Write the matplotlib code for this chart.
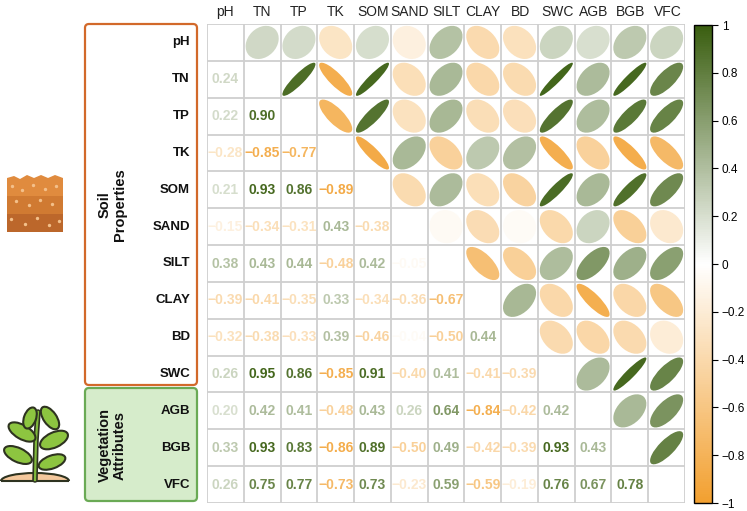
import numpy as np
import matplotlib
matplotlib.use("Agg")
import matplotlib.pyplot as plt
from matplotlib.colors import LinearSegmentedColormap, Normalize
from matplotlib.patches import Ellipse, Rectangle, FancyBboxPatch, Polygon
import matplotlib.cm as cm

plt.rcParams["font.family"] = ["Liberation Sans", "DejaVu Sans"]

VARS = ["pH", "TN", "TP", "TK", "SOM", "SAND", "SILT", "CLAY", "BD", "SWC", "AGB", "BGB", "VFC"]
ROW_LABELS = ["pH", "TN", "TP", "TK", "SOM", "SAND", "SILT", "CLAY", "BD", "SWC", "AGB", "BGB", "VFC"]

# lower triangle, row by row (row i has i values)
LOWER = [
    [],
    [0.24],
    [0.22, 0.90],
    [-0.28, -0.85, -0.77],
    [0.21, 0.93, 0.86, -0.89],
    [-0.15, -0.34, -0.31, 0.43, -0.38],
    [0.38, 0.43, 0.44, -0.48, 0.42, -0.05],
    [-0.39, -0.41, -0.35, 0.33, -0.34, -0.36, -0.67],
    [-0.32, -0.38, -0.33, 0.39, -0.46, -0.04, -0.50, 0.44],
    [0.26, 0.95, 0.86, -0.85, 0.91, -0.40, 0.41, -0.41, -0.39],
    [0.20, 0.42, 0.41, -0.48, 0.43, 0.26, 0.64, -0.84, -0.42, 0.42],
    [0.33, 0.93, 0.83, -0.86, 0.89, -0.50, 0.49, -0.42, -0.39, 0.93, 0.43],
    [0.26, 0.75, 0.77, -0.73, 0.73, -0.23, 0.59, -0.59, -0.19, 0.76, 0.67, 0.78],
]
CBAR_TICKS = [1, 0.8, 0.6, 0.4, 0.2, 0, -0.2, -0.4, -0.6, -0.8, -1]

n = len(VARS)
corr = np.eye(n)
for i, row in enumerate(LOWER):
    for j, v in enumerate(row):
        corr[i, j] = v
        corr[j, i] = v

cmap = LinearSegmentedColormap.from_list("og", ["#F2A030", "#FFFFFF", "#3A5E10"])
norm = Normalize(-1, 1)

W, H = 747, 511
fig = plt.figure(figsize=(W / 100, H / 100), dpi=100)

# background axes in pixel coords for annotation boxes and icons
bg = fig.add_axes([0, 0, 1, 1])
bg.set_xlim(0, W)
bg.set_ylim(H, 0)
bg.axis("off")

# main matrix
gl, gr, gt, gb = 207, 685, 24, 503
cell = (gb - gt) / n
ax = fig.add_axes([gl / W, 1 - gb / H, (gr - gl) / W, (gb - gt) / H])
ax.set_xlim(-0.5, n - 0.5)
ax.set_ylim(n - 0.5, -0.5)
for k in range(n + 1):
    ax.axhline(k - 0.5, color="#cfcfcf", lw=1.3, zorder=1)
    ax.axvline(k - 0.5, color="#cfcfcf", lw=1.3, zorder=1)
for s in ax.spines.values():
    s.set_visible(False)
ax.set_xticks([])
ax.set_yticks([])

for i in range(n):
    for j in range(n):
        if i == j:
            continue
        r = corr[i, j]
        col = cmap(norm(r))
        if j > i:
            d = np.arccos(r) / 2
            major = 2 * 0.45 * np.sqrt(2) * np.cos(d)
            minor = 2 * 0.45 * np.sqrt(2) * np.sin(d)
            ax.add_patch(Ellipse((j, i), major, minor, angle=-45,
                                 facecolor=col, edgecolor="none", zorder=2))
        else:
            ax.text(j, i, f"{r:.2f}".replace("-", "\u2212"), ha="center", va="center",
                    color=col, fontsize=10, fontweight="bold", zorder=3)

# column labels centred ~12 px above the grid
for j, lab in enumerate(VARS):
    bg.text(gl + (j + 0.5) * cell, 12, lab, ha="center", va="center",
            fontsize=10, color="#222222")

# group boxes
bg.add_patch(FancyBboxPatch((85, 24), 112, 361, boxstyle="round,pad=0,rounding_size=4",
                            facecolor="white", edgecolor="#D2692A", lw=1.6))
bg.add_patch(FancyBboxPatch((85, 388), 112, 113, boxstyle="round,pad=0,rounding_size=4",
                            facecolor="#D6ECCB", edgecolor="#6AAA55", lw=1.6))
bg.text(112, 205, "Soil\nProperties", rotation=90, ha="center", va="center",
        fontsize=10.5, fontweight="bold", linespacing=1.1, color="#111111")
bg.text(112, 445, "Vegetation\nAttributes", rotation=90, ha="center", va="center",
        fontsize=10.5, fontweight="bold", linespacing=1.1, color="#111111")

for i, lab in enumerate(ROW_LABELS):
    bg.text(190, gt + (i + 0.5) * cell, lab, ha="right", va="center",
            fontsize=9.5, fontweight="bold", color="#111111")

# soil icon
bg.add_patch(Polygon([(7, 232), (7, 178), (14, 176), (20, 179), (27, 175), (34, 178),
                      (41, 175), (48, 178), (55, 175), (63, 178), (63, 232)],
                     closed=True, facecolor="#E08B3E", edgecolor="none"))
bg.add_patch(Rectangle((7, 196), 56, 18, facecolor="#D07A32", edgecolor="none"))
bg.add_patch(Rectangle((7, 214), 56, 18, facecolor="#BC672B", edgecolor="none"))
dots_x = [12, 22, 33, 45, 56, 16, 29, 40, 52, 11, 25, 37, 49, 59]
dots_y = [186, 190, 185, 189, 186, 201, 205, 200, 204, 219, 224, 218, 225, 221]
bg.scatter(dots_x, dots_y, s=2, color="#F3C08A", zorder=3)

# plant icon
bg.add_patch(Ellipse((35, 481), 68, 16, facecolor="#F4C89C", edgecolor="#2E3320", lw=1.5))
bg.add_patch(Rectangle((0, 481), 75, 10, facecolor="white", edgecolor="none"))
bg.plot([2, 68], [481, 481], color="#2E3320", lw=1.5)
bg.plot([35, 36, 38], [480, 440, 412], color="#2E3320", lw=4, solid_capstyle="round")
bg.plot([35, 36, 38], [480, 440, 412], color="#7FB83A", lw=1.6)
leaves = [((50, 418), 13, 26, -35), ((22, 432), 30, 14, 30), ((54, 440), 30, 15, -25),
          ((18, 455), 30, 14, 25), ((52, 462), 28, 13, -20), ((30, 418), 12, 22, 20)]
for (cx, cy), w, h, a in leaves:
    bg.add_patch(Ellipse((cx, cy), w, h, angle=a, facecolor="#8DC540",
                         edgecolor="#2E3320", lw=1.5, zorder=4))

# colorbar
cax = fig.add_axes([694 / W, 1 - 503 / H, 18 / W, (503 - 25) / H])
sm = cm.ScalarMappable(norm=norm, cmap=cmap)
cb = fig.colorbar(sm, cax=cax, ticks=CBAR_TICKS)
cb.ax.set_yticklabels([f"{t:g}".replace("-", "\u2212") for t in CBAR_TICKS])
cb.ax.tick_params(labelsize=8.5, length=4, width=0.8, pad=3)
cb.outline.set_linewidth(1.0)

fig.savefig("out.png", dpi=100)
